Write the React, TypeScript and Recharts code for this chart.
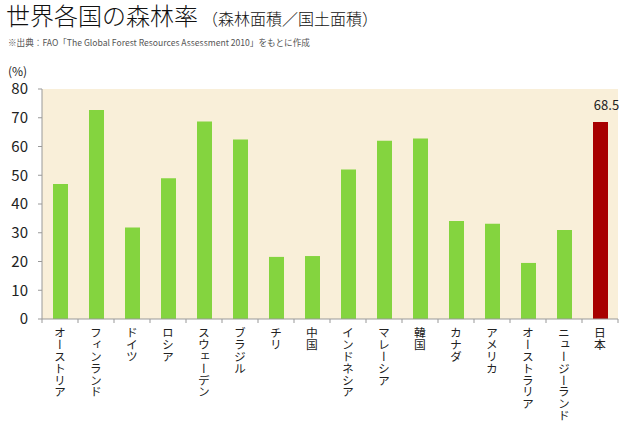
import { BarChart, Bar, XAxis, YAxis, CartesianGrid, Cell, LabelList } from 'recharts';

const countries = [
  'オーストリア', 'フィンランド', 'ドイツ', 'ロシア', 'スウェーデン', 'ブラジル', 'チリ', '中国',
  'インドネシア', 'マレーシア', '韓国', 'カナダ', 'アメリカ', 'オーストラリア', 'ニュージーランド', '日本',
];
const forestRate = [47.0, 72.7, 31.8, 49.0, 68.7, 62.4, 21.6, 21.9, 52.0, 62.0, 62.8, 34.1, 33.1, 19.5, 31.0, 68.5];
const yTicks = [0, 10, 20, 30, 40, 50, 60, 70, 80];
const highlight = '日本';

const data = countries.map((name, i) => ({ name, value: forestRate[i] }));

const FONT = '"Noto Sans CJK JP", "Noto Sans", sans-serif';
const BAND = 36;

const VerticalTick = (props: any) => {
  const { x, y, payload, index } = props;
  const last = index === countries.length - 1;
  return (
    <g>
      <line x1={x - BAND / 2} y1={y} x2={x - BAND / 2} y2={y + 4} stroke="#999" />
      {last && <line x1={x + BAND / 2} y1={y} x2={x + BAND / 2} y2={y + 4} stroke="#999" />}
      <text
        x={x}
        y={y + 8}
        fill="#222"
        fontSize={11.8}
        fontFamily={FONT}
        style={{ writingMode: 'vertical-rl' }}
      >
        {payload.value}
      </text>
    </g>
  );
};

export default function App() {
  return (
    <div style={{ position: 'absolute', left: 0, top: 0, width: 620, height: 425, background: '#fff', fontFamily: FONT }}>
      <div style={{ position: 'absolute', left: 6, top: 0, width: 600, height: 32, whiteSpace: 'nowrap', color: '#111', lineHeight: '30px' }}>
        <span style={{ fontSize: 24, fontWeight: 300 }}>世界各国の森林率</span>
        <span style={{ fontSize: 16, fontWeight: 300, marginLeft: 4 }}>（森林面積／国土面積）</span>
      </div>
      <div style={{ position: 'absolute', left: 8, top: 36, fontSize: 8.6, lineHeight: '12px', color: '#555', whiteSpace: 'nowrap' }}>
        ※出典：FAO「The Global Forest Resources Assessment 2010」をもとに作成
      </div>
      <div style={{ position: 'absolute', left: 8, top: 64, fontSize: 12, lineHeight: '14px', color: '#222' }}>(%)</div>
      <div style={{ position: 'absolute', left: 0, top: 0 }}>
        <BarChart
          width={620}
          height={425}
          data={data}
          margin={{ top: 89, right: 2, bottom: 0, left: 0 }}
        >
          <CartesianGrid fill="#f9efd9" stroke="none" horizontal={false} vertical={false} />
          <XAxis
            dataKey="name"
            interval={0}
            height={106}
            axisLine={{ stroke: '#999' }}
            tickLine={false}
            tick={<VerticalTick />}
            tickSize={0}
            tickMargin={0}
          />
          <YAxis
            domain={[0, 80]}
            ticks={yTicks}
            width={42}
            axisLine={{ stroke: '#999' }}
            tickLine={{ stroke: '#999' }}
            tickSize={4}
            tickMargin={10}
            tick={{ fill: '#222', fontSize: 15, fontFamily: FONT }}
          />
          <Bar dataKey="value" barSize={15} isAnimationActive={false}>
            {data.map((d) => (
              <Cell key={d.name} fill={d.name === highlight ? '#a80000' : '#84d43f'} />
            ))}
            <LabelList
              dataKey="value"
              content={(p: any) => {
                if (data[p.index]?.name !== highlight) return null;
                return (
                  <text x={p.x + p.width / 2 + 6} y={p.y - 12} textAnchor="middle" fontSize={13} fontFamily={FONT} fill="#222">
                    {p.value}
                  </text>
                );
              }}
            />
          </Bar>
        </BarChart>
      </div>
    </div>
  );
}
